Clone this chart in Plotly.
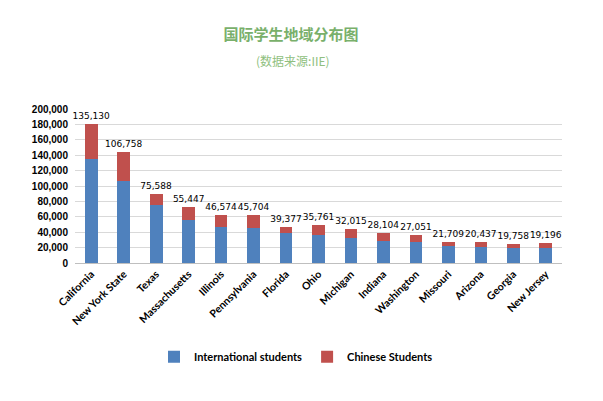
import plotly.graph_objects as go

states = ["California", "New York State", "Texas", "Massachusetts", "Illinois",
          "Pennsylvania", "Florida", "Ohio", "Michigan", "Indiana", "Washington",
          "Missouri", "Arizona", "Georgia", "New Jersey"]
international = [135130, 106758, 75588, 55447, 46574, 45704, 39377, 35761,
                 32015, 28104, 27051, 21709, 20437, 19758, 19196]
chinese = [45500, 37300, 14000, 17300, 15600, 16500, 7800, 14000,
           12000, 10700, 9700, 6000, 6800, 5500, 7300]
y_ticks = list(range(0, 200001, 20000))

label_text = [f"{v:,}" for v in international]

# The page body has an 8px default margin, so the figure is 8px smaller
W, H = 595, 393

fig = go.Figure()
fig.add_trace(go.Bar(
    x=states, y=international, name="International students",
    marker=dict(color="#4f81bd", line=dict(width=0)),
))
fig.add_trace(go.Bar(
    x=states, y=chinese, name="Chinese Students",
    marker=dict(color="#c0504d", line=dict(width=0)),
    text=label_text, textposition="outside", cliponaxis=False,
    constraintext="none",
    textfont=dict(family="DejaVu Sans", size=9, color="#000000"),
    textangle=0,
))

fig.update_layout(
    barmode="stack",
    bargap=0.61,
    width=W, height=H,
    margin=dict(l=67, r=41, t=101, b=138),
    paper_bgcolor="white", plot_bgcolor="white",
    title=dict(
        text="国际学生地域分布图",
        font=dict(family="Noto Sans CJK SC", size=15, color="#79b06b", weight="bold"),
        x=283 / W, xref="container", xanchor="center",
        y=1 - 27 / H, yref="container", yanchor="middle",
    ),
    annotations=[dict(
        text="(数据来源:IIE)", xref="paper", yref="paper",
        x=(293 - 75) / 487, y=(263 - 60) / 154,
        xanchor="center", yanchor="middle", showarrow=False,
        font=dict(family="Noto Sans CJK SC", size=12, color="#8fbf80"),
    )],
    legend=dict(
        orientation="h", xref="container", yref="container",
        x=288 / W, xanchor="center", y=1 - 348.7 / H, yanchor="middle",
        font=dict(family="Lato", size=11, color="#000000", weight="bold"),
        itemwidth=30, traceorder="normal",
    ),
    showlegend=True,
)
fig.update_xaxes(
    type="category", tickangle=-45,
    tickfont=dict(family="Lato", size=10.5, color="#000000", weight="bold"),
    showline=True, linecolor="#bfbfbf", linewidth=1, showgrid=False,
    ticks="",
)
fig.update_yaxes(
    range=[0, 200000], tickvals=y_ticks, tickformat=",d",
    tickfont=dict(family="Liberation Sans", size=10, color="#000000", weight="bold"),
    showgrid=True, gridcolor="#d9d9d9", gridwidth=1,
    zeroline=False, showline=False, ticks="", ticklabelstandoff=6,
    fixedrange=True,
)

fig.write_html("out.html")
